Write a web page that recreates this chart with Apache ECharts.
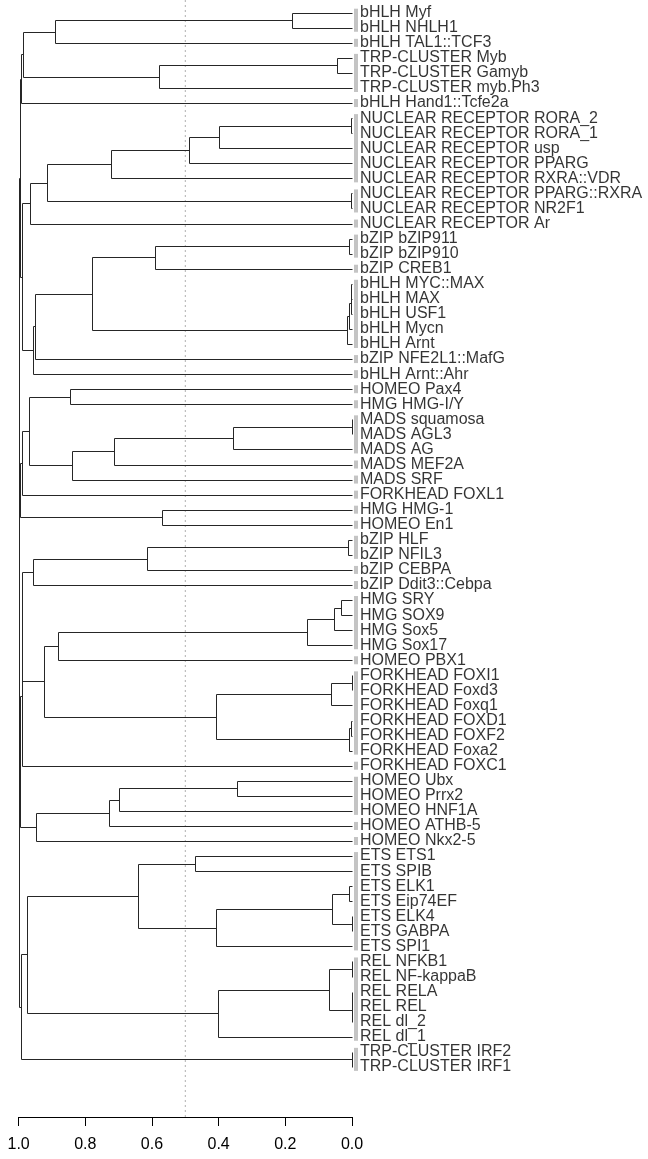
<!DOCTYPE html>
<html><head><meta charset="utf-8">
<script src="https://cdn.jsdelivr.net/npm/echarts@6/dist/echarts.min.js"></script>
<style>html,body{margin:0;padding:0;background:#fff}#c{width:648px;height:1159px}</style>
</head><body><div id="c"></div>
<script>
// ---- data ----
const leafLabels = [
 "bHLH Myf","bHLH NHLH1","bHLH TAL1::TCF3","TRP-CLUSTER Myb","TRP-CLUSTER Gamyb","TRP-CLUSTER myb.Ph3",
 "bHLH Hand1::Tcfe2a","NUCLEAR RECEPTOR RORA_2","NUCLEAR RECEPTOR RORA_1","NUCLEAR RECEPTOR usp",
 "NUCLEAR RECEPTOR PPARG","NUCLEAR RECEPTOR RXRA::VDR","NUCLEAR RECEPTOR PPARG::RXRA","NUCLEAR RECEPTOR NR2F1",
 "NUCLEAR RECEPTOR Ar","bZIP bZIP911","bZIP bZIP910","bZIP CREB1","bHLH MYC::MAX","bHLH MAX","bHLH USF1",
 "bHLH Mycn","bHLH Arnt","bZIP NFE2L1::MafG","bHLH Arnt::Ahr","HOMEO Pax4","HMG HMG-I/Y","MADS squamosa",
 "MADS AGL3","MADS AG","MADS MEF2A","MADS SRF","FORKHEAD FOXL1","HMG HMG-1","HOMEO En1","bZIP HLF",
 "bZIP NFIL3","bZIP CEBPA","bZIP Ddit3::Cebpa","HMG SRY","HMG SOX9","HMG Sox5","HMG Sox17","HOMEO PBX1",
 "FORKHEAD FOXI1","FORKHEAD Foxd3","FORKHEAD Foxq1","FORKHEAD FOXD1","FORKHEAD FOXF2","FORKHEAD Foxa2",
 "FORKHEAD FOXC1","HOMEO Ubx","HOMEO Prrx2","HOMEO HNF1A","HOMEO ATHB-5","HOMEO Nkx2-5","ETS ETS1",
 "ETS SPIB","ETS ELK1","ETS Eip74EF","ETS ELK4","ETS GABPA","ETS SPI1","REL NFKB1","REL NF-kappaB",
 "REL RELA","REL REL","REL dl_2","REL dl_1","TRP-CLUSTER IRF2","TRP-CLUSTER IRF1"
];
// hclust-style merges: negative = leaf (display position), positive = earlier merge; third = height
const merges = [
 [-1,-2,0.181],[1,-3,0.891],[-4,-5,0.046],[3,-6,0.580],[2,4,0.988],[5,-7,0.993],
 [-8,-9,0.002],[7,-10,0.398],[8,-11,0.488],[9,-12,0.723],[-13,-14,0.002],[10,11,0.916],[12,-15,0.967],
 [-16,-17,0.008],[14,-18,0.591],[-19,-20,0.002],[16,-21,0.004],[17,-22,0.010],[18,-23,0.016],
 [15,19,0.781],[20,-24,0.951],[21,-25,0.958],[13,22,0.989],[6,23,0.996],
 [-26,-27,0.847],[-28,-29,0.001],[26,-30,0.356],[27,-31,0.713],[28,-32,0.839],[25,29,0.968],
 [30,-33,0.989],[-34,-35,0.571],[31,32,0.995],[24,33,0.998],
 [-36,-37,0.013],[35,-38,0.615],[36,-39,0.958],
 [-40,-41,0.034],[38,-42,0.053],[39,-43,0.135],[40,-44,0.881],
 [-45,-46,0.001],[42,-47,0.064],[-48,-49,0.003],[44,-50,0.008],[43,45,0.408],[41,46,0.923],
 [37,47,0.989],[48,-51,0.991],
 [-52,-53,0.345],[50,-54,0.698],[51,-55,0.729],[52,-56,0.948],[49,53,0.996],[34,54,0.999],
 [-57,-58,0.472],[-59,-60,0.008],[-61,-62,0.001],[57,58,0.060],[59,-63,0.408],[56,60,0.642],
 [-64,-65,0.001],[-66,-67,0.000],[63,-68,0.001],[62,64,0.069],[65,-69,0.403],[61,66,0.976],
 [-70,-71,0.001],[67,68,0.993],[55,69,1.000]
];
// grey group bars: [first leaf, last leaf]
const groupBars = [
 [1,2],[3,3],[4,6],[7,7],[8,12],[13,14],[15,15],[16,17],[18,18],[19,23],[24,24],[25,25],
 [26,26],[27,27],[28,30],[31,31],[32,32],[33,33],[34,34],[35,35],[36,37],[38,38],[39,39],
 [40,43],[44,44],[45,50],[51,51],[52,54],[55,55],[56,56],[57,63],[64,69],[70,71]
];
const cutHeight = 0.5;
const heightTicks = [0, 0.2, 0.4, 0.6, 0.8, 1.0];

// ---- build tree segments ----
const nodes = [];
const segs = [];
function info(r){ return r < 0 ? {y: -r, h: 0} : nodes[r - 1]; }
merges.forEach(function(m){
  const A = info(m[0]), B = info(m[1]);
  nodes.push({y: (A.y + B.y) / 2, h: m[2]});
  segs.push([m[2], A.y, B.y, A.h, B.h]);
});

// ---- layout ----
const W = 648, H = 1159;
const axisY = 1117;
const leafStep = 15.06, firstLeafPx = 12.7;
const yMin = 1 - firstLeafPx / leafStep;
const yMax = yMin + axisY / leafStep;

function crisp(p){ return [Math.round(p[0]) + 0.5, Math.round(p[1]) + 0.5]; }

const chart = echarts.init(document.getElementById('c'), null, {renderer: 'canvas'});
chart.setOption({
  animation: false,
  backgroundColor: '#fff',
  grid: {left: 18.6, right: W - 352, top: 0, height: axisY, containLabel: false, outerBoundsMode: 'none'},
  xAxis: {
    type: 'value', inverse: true, min: 0, max: 1, interval: 0.2,
    axisLine: {show: true, onZero: false, lineStyle: {color: '#000', width: 1}},
    axisTick: {show: true, length: 9, lineStyle: {color: '#000', width: 1}},
    axisLabel: {show: true, margin: 20, fontSize: 16, color: '#000',
      fontFamily: 'Liberation Sans, Arial, sans-serif',
      formatter: function(v){ return heightTicks.indexOf(+v.toFixed(1)) >= 0 ? v.toFixed(1) : ''; }},
    splitLine: {show: false}
  },
  yAxis: {type: 'value', inverse: true, min: yMin, max: yMax, show: false},
  series: [
    {
      type: 'line', silent: true, symbol: 'none',
      data: [[cutHeight, yMin], [cutHeight, yMax]],
      lineStyle: {color: '#b0b0b0', width: 1, type: [2, 3]}, z: 1
    },
    {
      type: 'custom', silent: true, z: 3,
      data: segs,
      renderItem: function(params, api){
        const h = api.value(0), ya = api.value(1), yb = api.value(2), ha = api.value(3), hb = api.value(4);
        const pts = [api.coord([ha, ya]), api.coord([h, ya]), api.coord([h, yb]), api.coord([hb, yb])].map(crisp);
        return {type: 'polyline', shape: {points: pts}, style: {stroke: '#262626', lineWidth: 1, fill: null}};
      }
    },
    {
      type: 'custom', silent: true, z: 2,
      data: groupBars,
      renderItem: function(params, api){
        const s = api.value(0), e = api.value(1);
        const p1 = api.coord([0, s]), p2 = api.coord([0, e]);
        return {type: 'rect', shape: {x: p1[0] + 2, y: p1[1] - 4, width: 4, height: p2[1] - p1[1] + 8},
                style: {fill: '#c4c4c4'}};
      }
    },
    {
      type: 'scatter', silent: true, symbolSize: 0, z: 4,
      data: leafLabels.map(function(n, i){ return {name: n, value: [0, i + 1]}; }),
      label: {show: true, position: 'right', distance: 8, formatter: '{b}', color: '#000',
              fontSize: 16, fontFamily: 'Liberation Sans, Arial, sans-serif'}
    }
  ]
});
</script></body></html>
